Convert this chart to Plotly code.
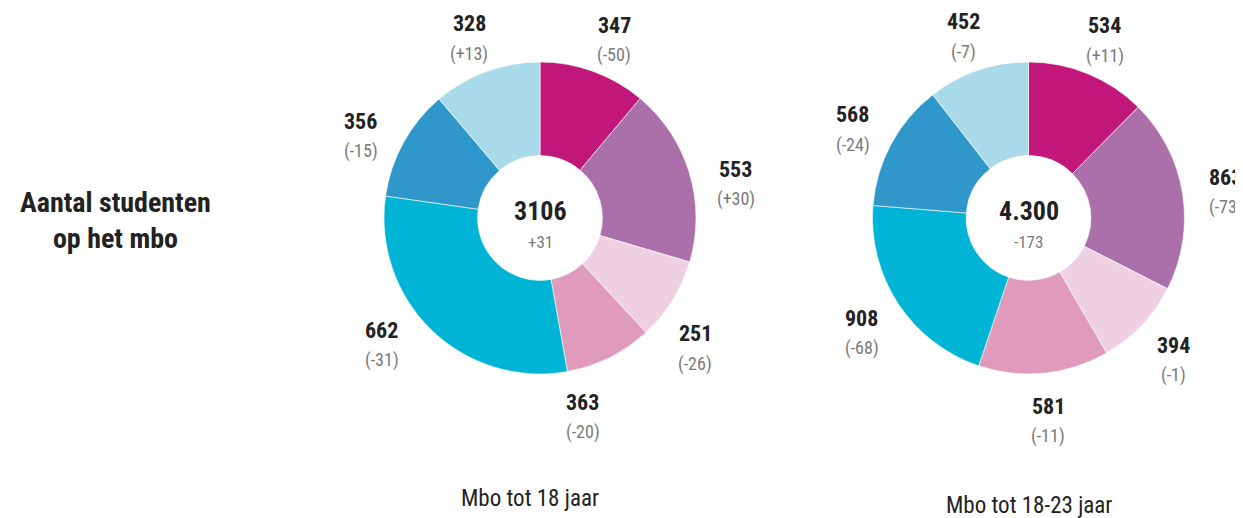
import math
import plotly.graph_objects as go

W, H = 1243, 518

categories = ["cat1", "cat2", "cat3", "cat4", "cat5", "cat6", "cat7"]
colors = ["#C2177A", "#AB6FAA", "#EED0E0", "#E09BBC", "#00B4D5", "#3097CB", "#A9DAE9"]

# Mbo tot 18 jaar: printed labels
values_18 = [347, 553, 251, 363, 662, 356, 328]
deltas_18 = ["(-50)", "(+30)", "(-26)", "(-20)", "(-31)", "(-15)", "(+13)"]
# slice sizes as drawn in the picture
slices_18 = [345, 573, 266, 282, 934, 359, 348]
total_18 = "3106"
total_delta_18 = "+31"
title_18 = "Mbo tot 18 jaar"

# Mbo tot 18-23 jaar
values_23 = [534, 863, 394, 581, 908, 568, 452]
deltas_23 = ["(+11)", "(-73)", "(-1)", "(-11)", "(-68)", "(-24)", "(-7)"]
slices_23 = values_23
total_23 = "4.300"
total_delta_23 = "-173"
title_23 = "Mbo tot 18-23 jaar"

side_title = "Aantal studenten<br>op het mbo"

FONT = "Liberation Sans Narrow, Arial Narrow, Roboto Condensed, Liberation Sans, sans-serif"
DARK = "#222222"
GRAY = "#7a7a7a"

R = 156         # outer radius px
LABEL_RX = 200  # label horizontal radius px
LABEL_RY = 198  # label vertical radius px
LABEL_DY = 6    # label ring vertical offset px
CY = 218
OFF = 8         # page body margin

donuts = [
    # center x, slices, labels, deltas, total, total delta, title, title x, title y
    (540, slices_18, values_18, deltas_18, total_18, total_delta_18, title_18, 530, 498),
    (1028.5, slices_23, values_23, deltas_23, total_23, total_delta_23, title_23, 1029, 505),
]

def px(x):
    return (x - OFF) / W

def py(y):
    return 1 - (y - OFF) / H

fig = go.Figure()
annotations = []

for cx, sl, vals, dels, tot, totd, title, tx, ty in donuts:
    fig.add_trace(go.Pie(
        labels=categories, values=sl, sort=False, direction="clockwise",
        rotation=0, hole=0.40,
        marker=dict(colors=colors, line=dict(color="white", width=0.6)),
        textinfo="none", hoverinfo="label+value", showlegend=False,
        domain=dict(x=[px(cx - R), px(cx + R)], y=[py(CY + R), py(CY - R)]),
    ))
    total = sum(vals)
    cum = 0
    for v, d in zip(vals, dels):
        mid = (cum + v / 2) / total * 2 * math.pi
        cum += v
        lx = cx + LABEL_RX * math.sin(mid)
        ly = CY + LABEL_DY - LABEL_RY * math.cos(mid)
        annotations.append(dict(x=px(lx), y=py(ly - 15), text=f"<b>{v}</b>",
                                font=dict(family=FONT, size=22, color=DARK)))
        annotations.append(dict(x=px(lx), y=py(ly + 15), text=d,
                                font=dict(family=FONT, size=18, color=GRAY)))
    annotations.append(dict(x=px(cx), y=py(CY - 7), text=f"<b>{tot}</b>",
                            font=dict(family=FONT, size=26, color=DARK)))
    annotations.append(dict(x=px(cx), y=py(CY + 24), text=totd,
                            font=dict(family=FONT, size=17, color=GRAY)))
    annotations.append(dict(x=px(tx), y=py(ty), text=title,
                            font=dict(family=FONT, size=23, color=DARK)))

annotations.append(dict(x=px(115), y=py(220), text=f"<b>{side_title}</b>",
                        font=dict(family=FONT, size=28, color=DARK)))

for a in annotations:
    a.update(xref="paper", yref="paper", showarrow=False, xanchor="center", yanchor="middle")

fig.update_layout(
    width=W, height=H, margin=dict(l=0, r=0, t=0, b=0),
    paper_bgcolor="white", plot_bgcolor="white",
    annotations=annotations,
)

fig.write_html("out.html")
